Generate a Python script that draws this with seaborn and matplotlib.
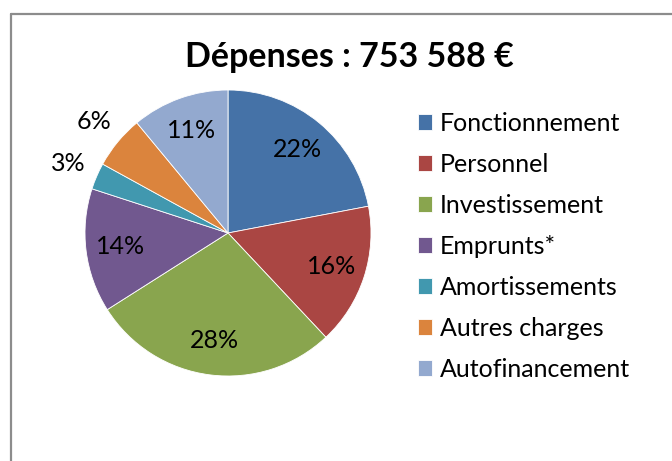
import numpy as np
import seaborn as sns
import matplotlib.pyplot as plt
from matplotlib.lines import Line2D

# Data
categories = ['Fonctionnement', 'Personnel', 'Investissement', 'Emprunts*',
              'Amortissements', 'Autres charges', 'Autofinancement']
shares = [22, 16, 28, 14, 3, 6, 11]
colors = ['#4572A7', '#AA4643', '#89A54E', '#71588F', '#4198AF', '#DB843D', '#93A9CF']
title = 'Dépenses : 753 588 €'

sns.set_theme(style='white')
plt.rcParams['font.family'] = ['Lato', 'DejaVu Sans']
plt.rcParams['text.color'] = 'black'

W, H = 672, 461
fig = plt.figure(figsize=(W / 100, H / 100), dpi=100)

# Chart frame (grey border, cut off at right and bottom)
bx, by = 11 / W, 1 - 14 / H
fig.add_artist(Line2D([bx, bx], [0, by], transform=fig.transFigure, color='#8c8c8c', lw=1.6))
fig.add_artist(Line2D([bx, 1], [by, by], transform=fig.transFigure, color='#8c8c8c', lw=1.6))

# Pie axes: centre (228, 233) px, radius 143 px
cx, cy, r = 228, 233, 143
ax = fig.add_axes([(cx - r) / W, (H - cy - r) / H, 2 * r / W, 2 * r / H])
wedges, texts, autotexts = ax.pie(shares, colors=colors, startangle=90, counterclock=False,
                                  autopct='%1.0f%%', pctdistance=0.76,
                                  wedgeprops=dict(linewidth=0.6, edgecolor='white'),
                                  textprops=dict(fontsize=18, color='black'))
ax.set_xlim(-1, 1)
ax.set_ylim(-1, 1)

# Small slices get their labels outside
for w, t, v in zip(wedges, autotexts, shares):
    if v < 8:
        ang = np.deg2rad((w.theta1 + w.theta2) / 2)
        t.set_position((1.22 * np.cos(ang), 1.22 * np.sin(ang)))

fig.text(349 / W, 1 - 57 / H, title, ha='center', va='center', fontsize=24.5,
         fontweight='bold', color='black')

leg = fig.legend(wedges, categories, loc='upper left', bbox_to_anchor=(408 / W, 1 - 102 / H),
                 frameon=False, fontsize=18, handlelength=0.58, handleheight=0.58,
                 handletextpad=0.3, labelspacing=0.72, borderaxespad=0)
for t in leg.get_texts():
    t.set_color('black')

fig.savefig('out.png', dpi=100)
